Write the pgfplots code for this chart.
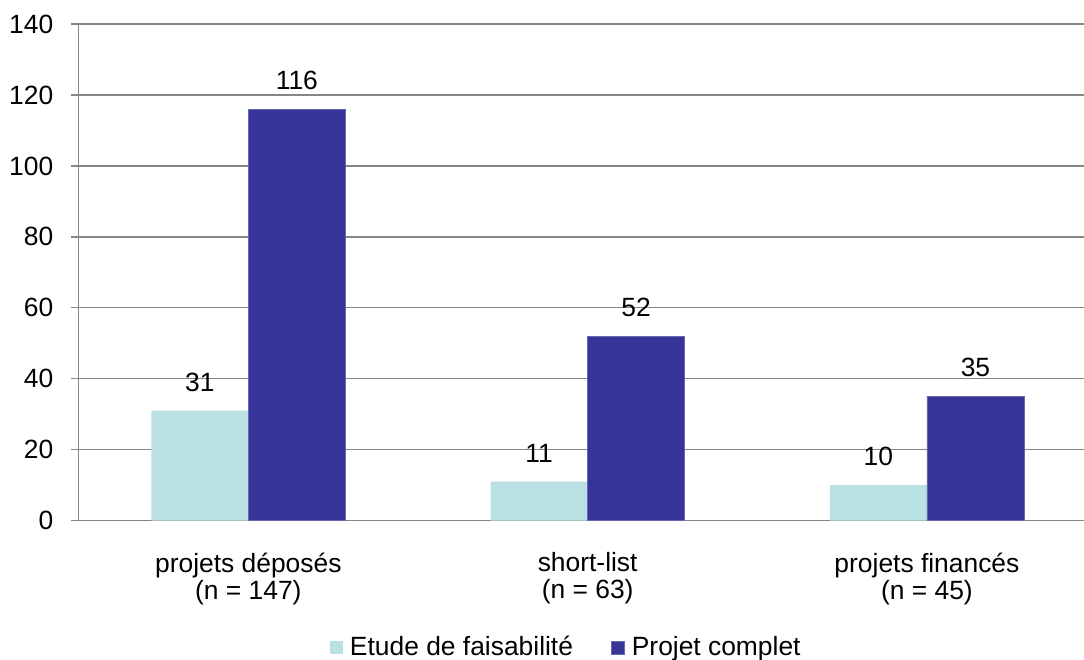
\documentclass[border=0pt]{standalone}
\usepackage{fontspec}
\setmainfont{Liberation Sans}
\usepackage{pgfplots}
\pgfplotsset{compat=1.18}
\definecolor{etude}{RGB}{185,224,227}
\definecolor{complet}{RGB}{54,52,152}
\definecolor{gridgray}{RGB}{134,134,134}
\begin{document}
\fontsize{13.2}{13.6}\selectfont
\begin{tikzpicture}
\useasboundingbox (-39.35pt,-69.65pt) rectangle (502.65pt,260.35pt);
\begin{axis}[
  scale only axis,
  width=508.95pt, height=248.35pt,
  xmin=-0.5, xmax=2.5,
  ymin=0, ymax=140,
  ytick={0,20,40,60,80,100,120,140},
  /pgf/number format/assume math mode=true,
  axis x line=bottom, axis y line=left,
  axis line style={gridgray, line width=0.65pt, -},
  ymajorgrids,
  major grid style={gridgray, line width=0.65pt},
  ytick style={gridgray, line width=0.65pt},
  tick align=outside,
  major tick length=3.75pt,
  yticklabel style={anchor=east, inner sep=0pt, xshift=-8.8pt},
  xtick={0,1,2},
  xticklabels={{projets déposés\\(n = 147)},{short-list\\(n = 63)},{projets financés\\(n = 45)}},
  xticklabel style={align=center, anchor=north, inner sep=0pt, yshift=-12pt},
  x tick style={draw=none},
  extra x ticks={-0.5,0.5,1.5,2.5},
  extra x tick labels={},
  extra x tick style={grid=none, major tick length=3.5pt, tick style={gridgray, line width=0.65pt}},
  ybar=0pt,
  bar width=0.286,
  nodes near coords,
  every node near coord/.append style={anchor=south, inner sep=0pt, yshift=9.5pt, text=black},
  legend columns=2,
  legend style={draw=none, at={(0.48,0)}, anchor=center, yshift=-63.5pt,
    /tikz/every even column/.append style={column sep=17pt}},
  legend image code/.code={\fill[#1] (0pt,-3.3pt) rectangle (6.6pt,3.3pt); \path (8pt,0pt);},
]
\addplot[fill=etude, draw=none] coordinates {(0,31) (1,11) (2,10)};
\addplot[fill=complet, draw=complet!75!white, line width=0.4pt] coordinates {(0,116) (1,52) (2,35)};
\legend{Etude de faisabilité, Projet complet}
\end{axis}
\end{tikzpicture}
\end{document}
